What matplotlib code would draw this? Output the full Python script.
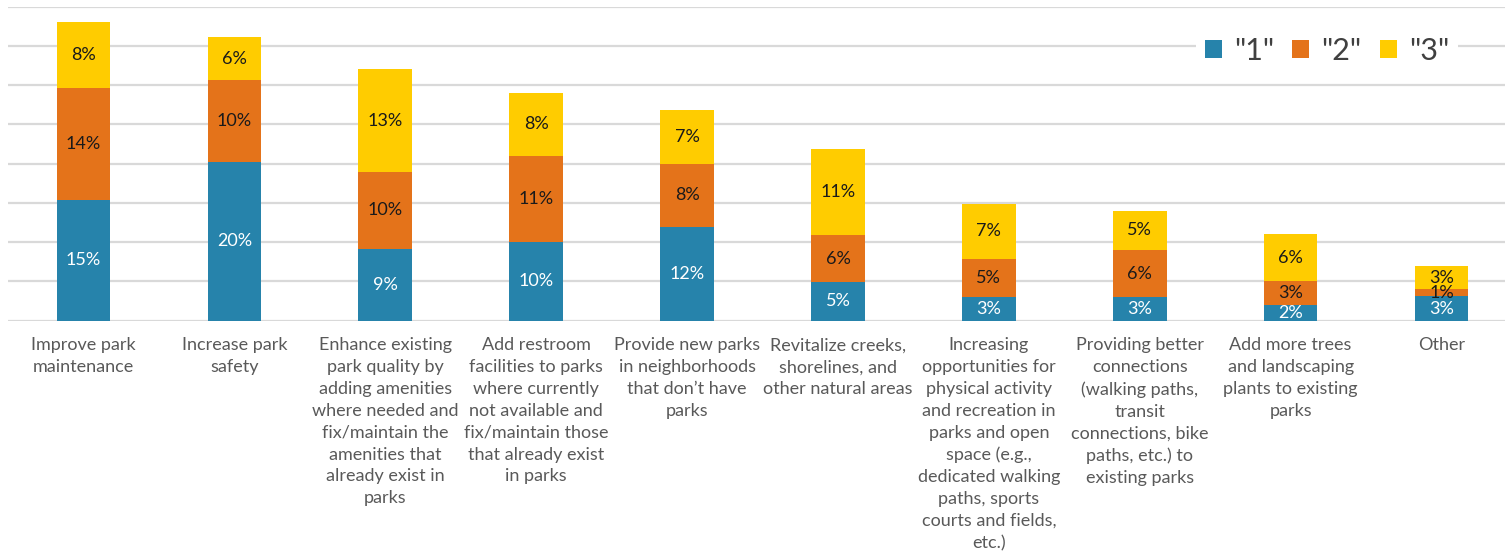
import matplotlib.pyplot as plt
from matplotlib.patches import Patch

plt.rcParams['font.family'] = ['Lato', 'DejaVu Sans']

categories = [
    "Improve park\nmaintenance",
    "Increase park\nsafety",
    "Enhance existing\npark quality by\nadding amenities\nwhere needed and\nfix/maintain the\namenities that\nalready exist in\nparks",
    "Add restroom\nfacilities to parks\nwhere currently\nnot available and\nfix/maintain those\nthat already exist\nin parks",
    "Provide new parks\nin neighborhoods\nthat don\u2019t have\nparks",
    "Revitalize creeks,\nshorelines, and\nother natural areas",
    "Increasing\nopportunities for\nphysical activity\nand recreation in\nparks and open\nspace (e.g.,\ndedicated walking\npaths, sports\ncourts and fields,\netc.)",
    "Providing better\nconnections\n(walking paths,\ntransit\nconnections, bike\npaths, etc.) to\nexisting parks",
    "Add more trees\nand landscaping\nplants to existing\nparks",
    "Other",
]

# share of respondents (%) ranking the item 1st, 2nd, 3rd
rank1 = [15.4, 20.2, 9.1, 10.0, 12.0, 4.9, 3.0, 3.0, 2.0, 3.1]
rank2 = [14.3, 10.4, 9.9, 11.0, 8.0, 6.0, 4.9, 6.0, 3.0, 0.9]
rank3 = [8.4, 5.6, 13.0, 8.0, 6.9, 11.0, 7.0, 5.0, 6.0, 3.0]
series_names = ['"1"', '"2"', '"3"']

colors = ["#2683AB", "#E4731A", "#FFCC00"]
label_colors = ["white", "#1a1a1a", "#1a1a1a"]

fig = plt.figure(figsize=(15.05, 5.52), dpi=100)
ax = fig.add_axes([8 / 1505, (552 - 320.7) / 552, 1509 / 1505, 314 / 552])

x = list(range(len(categories)))
bottom = [0.0] * len(categories)
for vals, col, lcol in zip([rank1, rank2, rank3], colors, label_colors):
    bars = ax.bar(x, vals, width=0.355, bottom=bottom, color=col, zorder=3)
    ax.bar_label(bars, labels=[f"{v:.0f}%" for v in vals], label_type="center",
                 color=lcol, fontsize=13, zorder=4)
    bottom = [b + v for b, v in zip(bottom, vals)]

ax.set_xlim(-0.5, len(categories) - 0.5)
ax.set_ylim(0, 40)
ax.set_yticks(range(0, 41, 5))
ax.set_yticklabels([])
ax.yaxis.grid(True, color="#d9d9d9", linewidth=1.6, zorder=0)
ax.tick_params(axis="both", length=0)
for s in ax.spines.values():
    s.set_visible(False)

ax.set_xticks(x)
ax.set_xticklabels(categories, fontsize=13, color="#595959", linespacing=1.45, va="top")
ax.tick_params(axis="x", pad=12)

handles = [Patch(facecolor=c) for c in colors]
fig.legend(handles, series_names, loc="center", bbox_to_anchor=(1327 / 1505, 1 - 51 / 552),
           ncol=3, fontsize=22, frameon=True, facecolor="white", edgecolor="none",
           framealpha=1, handlelength=0.55, handleheight=0.55, handletextpad=0.4,
           columnspacing=0.6, labelcolor="#404040", borderpad=0.3)

fig.savefig("out.png", dpi=100)
